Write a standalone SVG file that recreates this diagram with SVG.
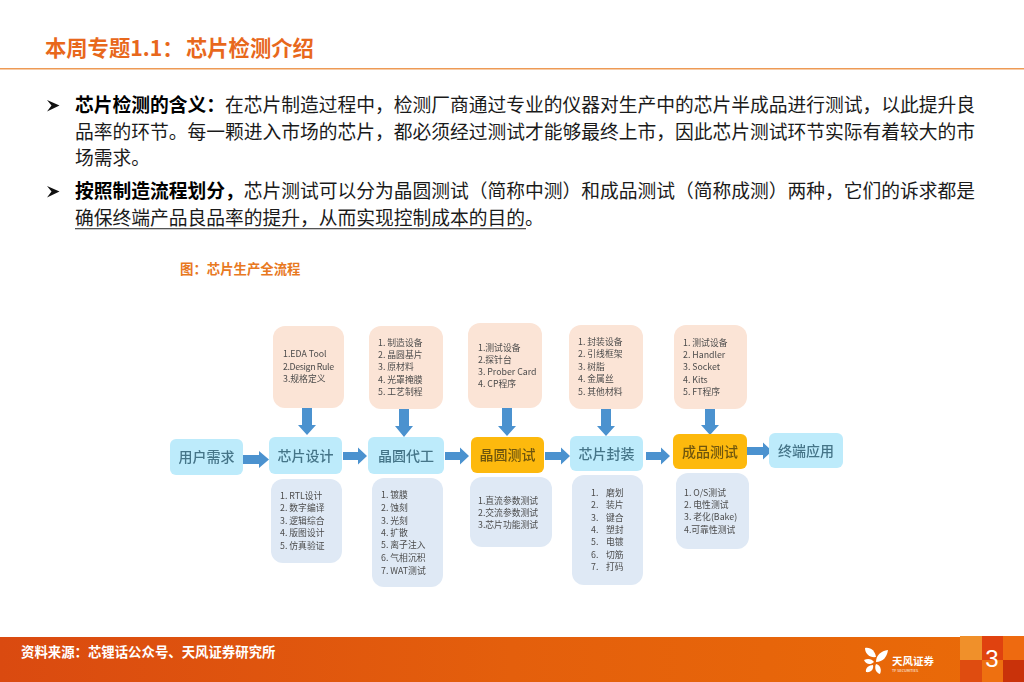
<svg xmlns="http://www.w3.org/2000/svg" width="1024" height="682" viewBox="0 0 1024 682">
<style>
text{font-family:"Noto Sans CJK SC","Liberation Sans",sans-serif}
.body{font-size:18.75px;fill:#1a1a1a}
.b{font-weight:700;fill:#000}
.main{font-size:14px;font-weight:500;text-anchor:middle;fill:#457488}
.mainO{font-size:14px;font-weight:500;text-anchor:middle;fill:#6f5610}
.s{font-size:8.8px;fill:#4c4c4c}
.blue{fill:#BDEBFB}.or{fill:#FDB90B}.pe{fill:#FBE4D6}.pa{fill:#DFE9F5}
.ar{fill:#4B92CF}
.foot{fill:#fff}
</style>
<defs>
<linearGradient id="fg" x1="0" x2="1" y1="0" y2="0"><stop offset="0" stop-color="#DA4A10"/><stop offset=".5" stop-color="#E45F0C"/><stop offset="1" stop-color="#EA6B08"/></linearGradient>
<filter id="soft" x="-5%" y="-5%" width="110%" height="110%"><feGaussianBlur stdDeviation="0.45"/></filter>
<path id="bullet" d="M0 0L12.5 5.5L0 11.500L4.500 5.500Z" fill="#111"/>
</defs>
<rect width="1024" height="682" fill="#fff"/>
<g id="header">
<text x="45" y="56" font-size="21.300" font-weight="700" fill="#E8681C">本周专题1.1：<tspan x="186">芯片检测介绍</tspan></text>
<rect x="0" y="68" width="1024" height="1.500" fill="#EE9A55"/>
</g>
<g id="bodytext">
<use href="#bullet" x="47" y="100"/>
<text class="body" x="75" y="112"><tspan class="b">芯片检测的含义：</tspan>在芯片制造过程中，检测厂商通过专业的仪器对生产中的芯片半成品进行测试，以此提升良</text>
<text class="body" x="75" y="139">品率的环节。每一颗进入市场的芯片，都必须经过测试才能够最终上市，因此芯片测试环节实际有着较大的市</text>
<text class="body" x="75" y="165">场需求。</text>
<use href="#bullet" x="47" y="186"/>
<text class="body" x="75" y="198"><tspan class="b">按照制造流程划分，</tspan>芯片测试可以分为晶圆测试（简称中测）和成品测试（简称成测）两种，它们的诉求都是</text>
<text class="body" x="75" y="225">确保终端产品良品率的提升，从而实现控制成本的目的。</text>
<rect x="75" y="228" width="451" height="1.300" fill="#555"/>
<text x="180" y="274" font-size="13.400" font-weight="700" fill="#E8791F">图：芯片生产全流程</text>
</g>
<g filter="url(#soft)">
<g id="connectors">
<path class="ar" d="M243 455H259V451L269 459.500L259 468V464H243Z"/>
<path class="ar" d="M343 452H358V447.500L367 456L358 464.500V460H343Z"/>
<path class="ar" d="M445 452H460V447.500L469 456L460 464.500V460H445Z"/>
<path class="ar" d="M545 452H561V447.500L570 456L561 464.500V460H545Z"/>
<path class="ar" d="M646 452H661V447.500L670 456L661 464.500V460H646Z"/>
<path class="ar" d="M747 447H763V442.500L772 451L763 459.500V455H747Z"/>
<path class="ar" d="M302 408H312V425H316L307 435L298 425H302Z"/>
<path class="ar" d="M399 409H409V426H413L404 437L395 426H399Z"/>
<path class="ar" d="M502 408H512V426H516L507 436L498 426H502Z"/>
<path class="ar" d="M601 408H611V426H615L606 436L597 426H601Z"/>
<path class="ar" d="M705 408H715V425H719L710 435L701 425H705Z"/>
</g>
<g id="n-user"><rect class="blue" x="170" y="439" width="73" height="36" rx="6"/><text class="main" x="206.500" y="462">用户需求</text></g>
<g id="n-design"><rect class="blue" x="269" y="437" width="73" height="37" rx="6"/><text class="main" x="305.500" y="461">芯片设计</text></g>
<g id="n-fab"><rect class="blue" x="368" y="437" width="76" height="37" rx="6"/><text class="main" x="406" y="461">晶圆代工</text></g>
<g id="n-cp"><rect class="or" x="471" y="437" width="73" height="36" rx="6"/><text class="mainO" x="507.500" y="460">晶圆测试</text></g>
<g id="n-pkg"><rect class="blue" x="570" y="436" width="73" height="35" rx="6"/><text class="main" x="606.500" y="459">芯片封装</text></g>
<g id="n-ft"><rect class="or" x="673" y="434" width="74" height="35" rx="6"/><text class="mainO" x="710" y="457">成品测试</text></g>
<g id="n-app"><rect class="blue" x="769" y="433" width="74" height="35" rx="6"/><text class="main" x="806" y="456">终端应用</text></g>

<g id="t-design"><rect class="pe" x="273" y="326" width="71" height="82" rx="12"/>
<text class="s" x="283" y="357">1.EDA Tool</text><text class="s" x="283" y="370" textLength="51">2.Design Rule</text><text class="s" x="283" y="382">3.规格定义</text></g>
<g id="t-fab"><rect class="pe" x="369" y="326" width="74" height="83" rx="12"/>
<text class="s" x="378" y="346">1. 制造设备</text><text class="s" x="378" y="358">2. 晶圆基片</text><text class="s" x="378" y="370">3. 原材料</text><text class="s" x="378" y="383">4. 光罩掩膜</text><text class="s" x="378" y="395">5. 工艺制程</text></g>
<g id="t-cp"><rect class="pe" x="468" y="323" width="74" height="85" rx="12"/>
<text class="s" x="478" y="351">1.测试设备</text><text class="s" x="478" y="363">2.探针台</text><text class="s" x="478" y="375">3. Prober Card</text><text class="s" x="478" y="387">4. CP程序</text></g>
<g id="t-pkg"><rect class="pe" x="569" y="325" width="74" height="84" rx="12"/>
<text class="s" x="578" y="345">1. 封装设备</text><text class="s" x="578" y="357">2. 引线框架</text><text class="s" x="578" y="370">3. 树脂</text><text class="s" x="578" y="382">4. 金属丝</text><text class="s" x="578" y="395">5. 其他材料</text></g>
<g id="t-ft"><rect class="pe" x="674" y="325" width="73" height="84" rx="12"/>
<text class="s" x="683" y="346">1. 测试设备</text><text class="s" x="683" y="358">2. Handler</text><text class="s" x="683" y="370">3. Socket</text><text class="s" x="683" y="383">4. Kits</text><text class="s" x="683" y="395">5. FT程序</text></g>

<g id="b-design"><rect class="pa" x="271" y="479" width="71" height="84" rx="12"/>
<text class="s" x="280" y="499">1. RTL设计</text><text class="s" x="280" y="511">2. 数字编译</text><text class="s" x="280" y="524">3. 逻辑综合</text><text class="s" x="280" y="536">4. 版图设计</text><text class="s" x="280" y="549">5. 仿真验证</text></g>
<g id="b-fab"><rect class="pa" x="372" y="478" width="71" height="109" rx="12"/>
<text class="s" x="381" y="498">1. 镀膜</text><text class="s" x="381" y="511">2. 蚀刻</text><text class="s" x="381" y="524">3. 光刻</text><text class="s" x="381" y="536">4. 扩散</text><text class="s" x="381" y="548">5. 离子注入</text><text class="s" x="381" y="561">6. 气相沉积</text><text class="s" x="381" y="574">7. WAT测试</text></g>
<g id="b-cp"><rect class="pa" x="470" y="477" width="82" height="70" rx="12"/>
<text class="s" x="478" y="504">1.直流参数测试</text><text class="s" x="478" y="516">2.交流参数测试</text><text class="s" x="478" y="528">3.芯片功能测试</text></g>
<g id="b-pkg"><rect class="pa" x="572" y="475" width="71" height="110" rx="12"/>
<text class="s" x="591" y="496">1.<tspan x="606">磨划</tspan></text><text class="s" x="591" y="508">2.<tspan x="606">装片</tspan></text><text class="s" x="591" y="521">3.<tspan x="606">键合</tspan></text><text class="s" x="591" y="533">4.<tspan x="606">塑封</tspan></text><text class="s" x="591" y="545">5.<tspan x="606">电镀</tspan></text><text class="s" x="591" y="558">6.<tspan x="606">切筋</tspan></text><text class="s" x="591" y="570">7.<tspan x="606">打码</tspan></text></g>
<g id="b-ft"><rect class="pa" x="676" y="473" width="73" height="76" rx="12"/>
<text class="s" x="684" y="496">1. O/S测试</text><text class="s" x="684" y="508">2. 电性测试</text><text class="s" x="684" y="520">3. 老化(Bake)</text><text class="s" x="684" y="533">4.可靠性测试</text></g>
</g>
<g id="footer">
<rect x="0" y="637" width="1024" height="45" fill="url(#fg)"/>
<rect x="960" y="636" width="22" height="24" fill="#F0902A"/><rect x="982" y="636" width="21" height="24" fill="#E0420F"/><rect x="1003" y="636" width="21" height="24" fill="#EE6A10"/>
<rect x="960" y="660" width="22" height="22" fill="#DF4C10"/><rect x="982" y="660" width="21" height="22" fill="#EE7010"/><rect x="1003" y="660" width="21" height="22" fill="#C9320A"/>
<text x="21" y="657" font-size="13.400" font-weight="700" fill="#fff">资料来源：芯锂话公众号、天风证券研究所</text>
<g class="foot">
<path d="M865 648C871 647 875 651 876 657C870 658 865 654 865 648Z"/>
<path d="M888 650C887 657 883 662 876 662C876 655 881 651 888 650Z"/>
<path d="M864 660C868 658 872 659 874 662C871 665 866 665 864 660Z"/>
<path d="M866 672C865 668 869 665 873 665C874 669 871 673 866 672Z"/>
<path d="M876 664C880 665 882 669 880 674C876 673 874 668 876 664Z"/>
</g>
<text x="892" y="665" font-size="10.500" font-weight="700" fill="#fff">天风证券</text>
<text x="892" y="671.500" font-size="3.800" fill="#fff">TF SECURITIES</text>
<text x="992" y="666.500" font-size="24" text-anchor="middle" fill="#fff" style="font-family:'Liberation Sans',sans-serif">3</text>
</g>
</svg>
